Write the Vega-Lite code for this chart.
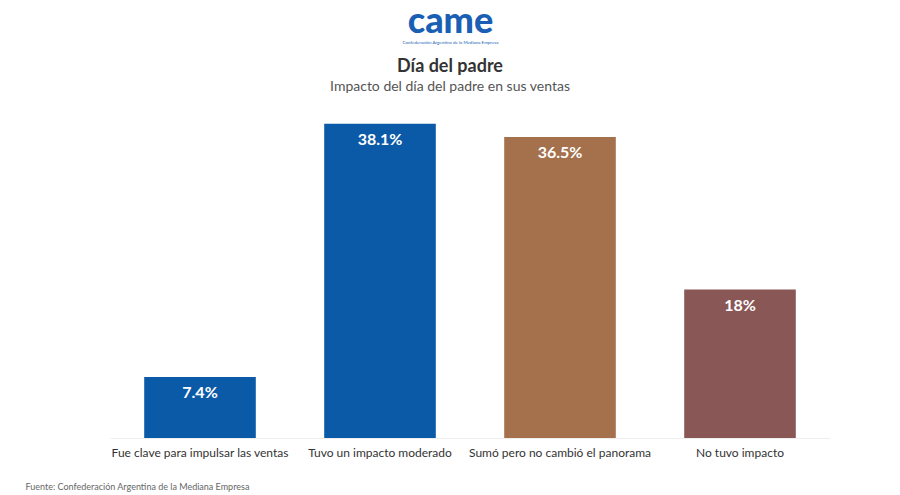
{
  "$schema": "https://vega.github.io/schema/vega-lite/v6.json",
  "width": 720,
  "height": 330,
  "autosize": {"type": "none"},
  "padding": {"left": 110, "top": 108, "right": 70, "bottom": 57},
  "background": "white",
  "config": {"view": {"stroke": null}, "font": "Lato"},
  "title": {
    "text": "Día del padre",
    "subtitle": "Impacto del día del padre en sus ventas",
    "anchor": "middle",
    "frame": "group",
    "dx": -20,
    "offset": -91,
    "fontSize": 18,
    "fontWeight": "bold",
    "color": "#333333",
    "subtitleFontSize": 14,
    "subtitleColor": "#555555",
    "subtitlePadding": 4,
    "font": "Lato",
    "subtitleFont": "Lato"
  },
  "data": {
    "values": [
      {"categoria": "Fue clave para impulsar las ventas", "valor": 7.4, "etiqueta": "7.4%"},
      {"categoria": "Tuvo un impacto moderado", "valor": 38.1, "etiqueta": "38.1%"},
      {"categoria": "Sumó pero no cambió el panorama", "valor": 36.5, "etiqueta": "36.5%"},
      {"categoria": "No tuvo impacto", "valor": 18, "etiqueta": "18%"}
    ]
  },
  "encoding": {
    "x": {
      "field": "categoria",
      "type": "nominal",
      "sort": null,
      "scale": {"paddingInner": 0.38, "paddingOuter": 0.19}
    },
    "y": {
      "field": "valor",
      "type": "quantitative",
      "scale": {"domain": [0, 40], "nice": false}
    }
  },
  "layer": [
    {
      "mark": {"type": "bar"},
      "encoding": {
        "x": {
          "field": "categoria",
          "type": "nominal",
          "sort": null,
          "axis": {
            "orient": "bottom",
            "labelAngle": 0,
            "labelFontSize": 12,
            "labelColor": "#333333",
            "labelPadding": 9,
            "labelFont": "Lato",
            "labelLimit": 0,
            "labelOverlap": false,
            "ticks": false,
            "domainColor": "#eeeeee",
            "title": "Fuente: Confederación Argentina de la Mediana Empresa",
            "titleAnchor": "start",
            "titleX": -85,
            "titleY": 44,
            "titleFontSize": 9,
            "titleFontWeight": "normal",
            "titleColor": "#666666",
            "titleFont": "Lato"
          }
        },
        "y": {
          "field": "valor",
          "type": "quantitative",
          "axis": {
            "labels": false,
            "ticks": false,
            "domain": false,
            "grid": false,
            "title": "came",
            "titleAngle": 0,
            "titleAlign": "center",
            "titleBaseline": "middle",
            "titleX": 340,
            "titleY": -87,
            "titleFontSize": 36,
            "titleFontWeight": 900,
            "titleColor": "#1a5fb4",
            "titleFont": "Lato"
          }
        },
        "color": {
          "field": "categoria",
          "type": "nominal",
          "sort": null,
          "scale": {
            "domain": ["Fue clave para impulsar las ventas", "Tuvo un impacto moderado", "Sumó pero no cambió el panorama", "No tuvo impacto"],
            "range": ["#0b5aa8", "#0b5aa8", "#a5704c", "#8a5757"]
          },
          "legend": null
        }
      }
    },
    {
      "mark": {"type": "text", "baseline": "top", "dy": 8, "color": "white", "fontSize": 16, "fontWeight": "bold", "font": "Lato"},
      "encoding": {
        "x": {
          "field": "categoria",
          "type": "nominal",
          "sort": null,
          "axis": {
            "orient": "top",
            "labels": false,
            "ticks": false,
            "domain": false,
            "title": "Confederación Argentina de la Mediana Empresa",
            "titleX": 340,
            "titleY": -64,
            "titleAnchor": null,
            "titleAlign": "center",
            "titleFontSize": 4.5,
            "titleFontWeight": "normal",
            "titleColor": "#1a5fb4",
            "titleFont": "Lato"
          }
        },
        "text": {"field": "etiqueta"}
      }
    }
  ],
  "resolve": {"axis": {"x": "independent"}}
}
